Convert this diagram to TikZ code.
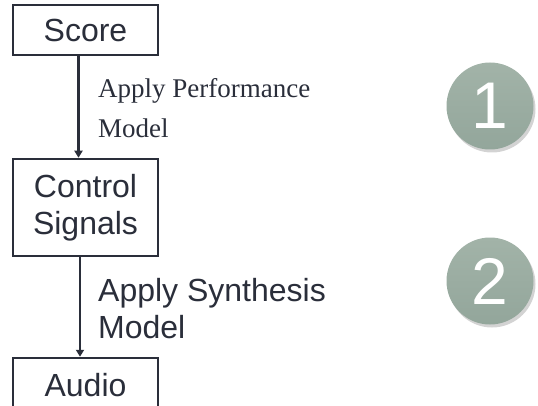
\documentclass[tikz,border=0pt]{standalone}
\usepackage{fontspec}
\setmainfont{Liberation Sans}
\newfontfamily\serifm{Liberation Serif}
\usetikzlibrary{shadows,arrows.meta}
\definecolor{ink}{HTML}{2A2E3A}
\definecolor{discA}{HTML}{A2B3A8}
\definecolor{discB}{HTML}{93A69B}
\begin{document}
\begin{tikzpicture}[x=1pt,y=-1pt,
  box/.style={draw=ink, line width=2.5pt, inner sep=0pt, align=center,
    font=\fontsize{32}{37}\selectfont, text=ink, minimum width=145pt},
  conn/.style={draw=ink, line width=2.5pt, -{Triangle[length=7pt,width=8pt]}},
  lbl/.style={anchor=north west, inner sep=0pt, align=left, text=ink},
  disc/.style={circle, minimum size=87pt, inner sep=0pt, top color=discA, bottom color=discB,
    drop shadow={shadow xshift=2pt, shadow yshift=-3pt, opacity=0.35},
    text=white, font=\fontsize{66}{66}\selectfont}
]
\useasboundingbox (0,0) rectangle (538,406);
\node[box, minimum height=50pt] (score) at (85.5,30) {Score};
\node[box, minimum height=97pt] (ctrl) at (85.5,207.5) {Control\\Signals};
\node[box, minimum height=54pt] (audio) at (85.5,385) {Audio};
\draw[conn] ([xshift=-7pt]score.south) -- ([xshift=-7pt]ctrl.north);
\draw[conn] ([xshift=-5.5pt]ctrl.south) -- ([xshift=-5.5pt]audio.north);
\node[lbl, font=\serifm\fontsize{27}{40}\selectfont] (perf) at (98,78) {Apply Performance\\Model};
\node[lbl, font=\fontsize{32}{37}\selectfont] (synth) at (98,278) {Apply Synthesis\\Model};
\node[disc] (one) at (490,106) {1};
\node[disc] (two) at (490,281) {2};
\end{tikzpicture}
\end{document}
